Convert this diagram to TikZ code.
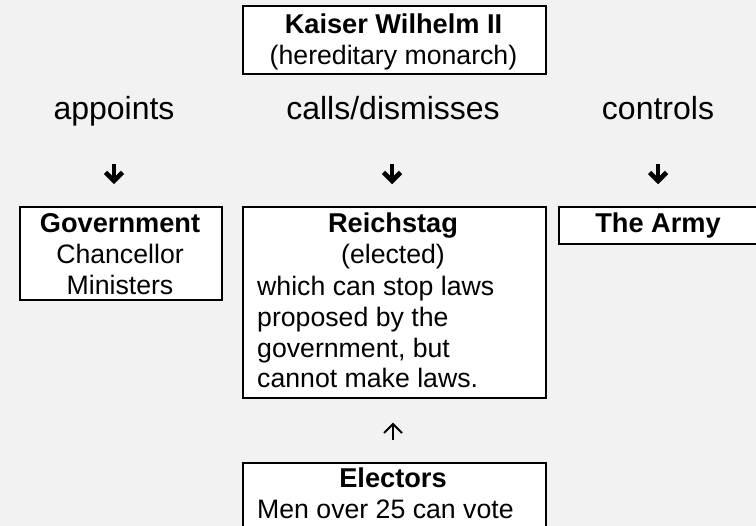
\documentclass[tikz,border=0pt]{standalone}
\usepackage{fontspec}
\setmainfont{Liberation Sans}
\usetikzlibrary{calc}
\definecolor{bg}{HTML}{F2F2F2}
\begin{document}
\begin{tikzpicture}[x=1pt,y=-1pt,
  box/.style={draw=black, line width=2pt, fill=white, inner sep=0pt},
  bt/.style={font=\fontsize{26.67}{30.9}\selectfont, inner sep=0pt},
  btb/.style={font=\fontsize{27.2}{30.9}\selectfont\bfseries, inner sep=0pt},
  lbl/.style={font=\fontsize{32}{36}\selectfont, inner sep=0pt, anchor=base},
  heavyline/.style={line width=4.6pt, line cap=butt, line join=miter},
  thinline/.style={line width=2pt, line cap=butt, line join=miter}]
\clip (0,0) rectangle (756,526);
\fill[bg] (0,0) rectangle (756,526);

% boxes
\node[box, anchor=north west, minimum width=303, minimum height=68] (kaiserbox) at (242,5) {};
\node[box, anchor=north west, minimum width=202, minimum height=93] (govbox) at (19,206) {};
\node[box, anchor=north west, minimum width=303, minimum height=191] (reichbox) at (242,206) {};
\node[box, anchor=north west, minimum width=210, minimum height=37] (armybox) at (558,206) {};
\node[box, anchor=north west, minimum width=303, minimum height=90] (electbox) at (242,462) {};

% box texts
\node[btb, anchor=base] (kaisert) at (393.5,34) {Kaiser Wilhelm II};
\node[bt, anchor=base] (kaisers) at (393.5,65) {(hereditary monarch)};

\node[btb, anchor=base] (govt) at (120,233) {Government};
\node[bt, anchor=base] (govc) at (120,264) {Chancellor};
\node[bt, anchor=base] (govm) at (120,295) {Ministers};

\node[btb, anchor=base] (reicht) at (393,233) {Reichstag};
\node[bt, anchor=base] (reiche) at (393,264) {(elected)};
\node[bt, anchor=base west, align=left] (reichb) at (257,388) {which can stop laws\\proposed by the\\government, but\\cannot make laws.};

\node[btb, anchor=base] (armyt) at (658,233) {The Army};

\node[btb, anchor=base] (electt) at (393,488) {Electors};
\node[bt, anchor=base west] (electm) at (257,519) {Men over 25 can vote};

% labels
\node[lbl] (appoints) at (114,120) {appoints};
\node[lbl] (calls) at (393,120) {calls/dismisses};
\node[lbl] (controls) at (658,120) {controls};

% heavy down arrows
\coordinate (a1s) at (114,164); \coordinate (a1e) at (114,181);
\coordinate (a2s) at (392,164); \coordinate (a2e) at (392,181);
\coordinate (a3s) at (658,164); \coordinate (a3e) at (658,181);
\foreach \s/\e in {a1s/a1e, a2s/a2e, a3s/a3e}{
  \draw[heavyline] (\s) -- ($(\e)+(0,-2)$);
  \draw[heavyline] ($(\e)+(-8.5,-8.5)$) -- (\e) -- ($(\e)+(8.5,-8.5)$);
}
% thin up arrow
\coordinate (ups) at (393,440); \coordinate (upe) at (393,424);
\draw[thinline] (ups) -- ($(upe)+(0,1)$);
\draw[thinline] ($(upe)+(-9,9)$) -- (upe) -- ($(upe)+(9,9)$);
\end{tikzpicture}
\end{document}
